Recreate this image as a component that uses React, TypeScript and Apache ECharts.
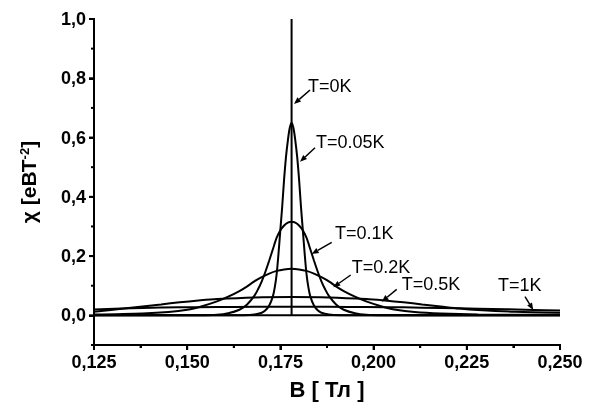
import React, { useEffect, useRef } from "react";
import * as echarts from "echarts";

// ---- data (B in Tesla, chi in eV*T^-2) ----
const T_0K: [number, number][] = [
  [0.125, 0], [0.178, 0], [0.178, 1.0], [0.178, 0], [0.25, 0],
];
const T_005K: [number, number][] = [
  [0.125, 0], [0.160, 0], [0.165, 0.0005], [0.168, 0.003], [0.170, 0.009],
  [0.171, 0.017], [0.172, 0.033], [0.173, 0.065], [0.1735, 0.095], [0.174, 0.14],
  [0.1745, 0.21], [0.175, 0.29], [0.1755, 0.37], [0.176, 0.46], [0.1765, 0.535],
  [0.177, 0.59], [0.1775, 0.632], [0.178, 0.65], [0.1785, 0.632], [0.179, 0.59],
  [0.1795, 0.535], [0.180, 0.46], [0.1805, 0.37], [0.181, 0.29], [0.1815, 0.21],
  [0.182, 0.14], [0.1825, 0.095], [0.183, 0.065], [0.184, 0.033], [0.185, 0.017],
  [0.186, 0.009], [0.188, 0.003], [0.191, 0.0005], [0.196, 0], [0.25, 0],
];
const T_01K: [number, number][] = [
  [0.125, 0], [0.153, 0.0005], [0.158, 0.002], [0.161, 0.007], [0.164, 0.019],
  [0.166, 0.036], [0.168, 0.066], [0.169, 0.088], [0.170, 0.115], [0.171, 0.148],
  [0.172, 0.185], [0.173, 0.224], [0.174, 0.262], [0.175, 0.287], [0.176, 0.303],
  [0.177, 0.313], [0.178, 0.316], [0.179, 0.313], [0.180, 0.303], [0.181, 0.287],
  [0.182, 0.262], [0.183, 0.224], [0.184, 0.185], [0.185, 0.148], [0.186, 0.115],
  [0.187, 0.088], [0.188, 0.066], [0.190, 0.036], [0.192, 0.019], [0.195, 0.007],
  [0.198, 0.002], [0.203, 0.0005], [0.25, 0],
];
const T_02K: [number, number][] = [
  [0.125, 0.0025], [0.138, 0.006], [0.145, 0.011], [0.150, 0.019], [0.154, 0.031],
  [0.158, 0.047], [0.161, 0.063], [0.164, 0.082], [0.166, 0.097], [0.168, 0.115],
  [0.170, 0.129], [0.172, 0.141], [0.174, 0.150], [0.176, 0.155], [0.178, 0.157],
  [0.180, 0.155], [0.182, 0.150], [0.184, 0.141], [0.186, 0.129], [0.188, 0.115],
  [0.190, 0.097], [0.192, 0.082], [0.195, 0.063], [0.198, 0.047], [0.202, 0.031],
  [0.206, 0.019], [0.211, 0.011], [0.218, 0.006], [0.228, 0.003], [0.25, 0.002],
];
const T_05K: [number, number][] = [
  [0.125, 0.012], [0.133, 0.023], [0.138, 0.030], [0.143, 0.037], [0.148, 0.044],
  [0.153, 0.050], [0.158, 0.055], [0.168, 0.0605], [0.178, 0.062], [0.188, 0.0605],
  [0.198, 0.055], [0.203, 0.050], [0.208, 0.044], [0.213, 0.037], [0.218, 0.030],
  [0.223, 0.023], [0.228, 0.018], [0.238, 0.012], [0.25, 0.009],
];
const T_1K: [number, number][] = [
  [0.125, 0.020], [0.138, 0.025], [0.148, 0.027], [0.158, 0.0282], [0.168, 0.0288],
  [0.178, 0.029], [0.188, 0.0288], [0.198, 0.0282], [0.208, 0.027], [0.218, 0.025],
  [0.228, 0.0225], [0.243, 0.0185], [0.25, 0.016],
];

const SERIES_DATA = [T_0K, T_005K, T_01K, T_02K, T_05K, T_1K];

const X_MIN = 0.125;
const X_MAX = 0.25;
const X_STEP = 0.025;
const X_MAJOR = [0.125, 0.15, 0.175, 0.2, 0.225, 0.25];
const X_MINOR = [0.1375, 0.1625, 0.1875, 0.2125, 0.2375];
const Y_MIN = -0.1;
const Y_MAX = 1.0;
const Y_MAJOR = [0, 0.2, 0.4, 0.6, 0.8, 1.0];
const Y_MINOR = [-0.1, 0.1, 0.3, 0.5, 0.7, 0.9];

// axis frame drawn as data-bound polylines along the axis extents
const FRAME_Y: [number, number][] = [[X_MIN, Y_MAX], [X_MIN, Y_MIN]];
const FRAME_X: [number, number][] = [[X_MIN, Y_MIN], [X_MAX, Y_MIN]];

// annotation layout (pixels): label left/center, arrow from -> to
const ANNOT = [
  { text: "T=0K", x: 308, y: 85.5, a: [310, 90, 294, 104] },
  { text: "T=0.05K", x: 316, y: 141.7, a: [315, 147.7, 300, 161.7] },
  { text: "T=0.1K", x: 335, y: 233, a: [331.7, 242.3, 311.7, 254] },
  { text: "T=0.2K", x: 351.7, y: 266.7, a: [350.7, 275, 333.3, 287.3] },
  { text: "T=0.5K", x: 401.7, y: 283.7, a: [396.7, 289.3, 381.7, 301.7] },
  { text: "T=1K", x: 498, y: 285, a: [525, 296.7, 533.3, 310] },
];

const GRID = { left: 94, right: 37, top: 19, bottom: 59 };
const W = 597;
const H = 405;
const FONT = "Arial";

function seg(x1: number, y1: number, x2: number, y2: number, w: number) {
  return {
    type: "line",
    shape: { x1, y1, x2, y2 },
    style: { stroke: "#000", lineWidth: w },
    silent: true,
    z: 10,
  };
}

function arrowEls(x1: number, y1: number, x2: number, y2: number) {
  const dx = x2 - x1;
  const dy = y2 - y1;
  const len = Math.sqrt(dx * dx + dy * dy);
  const ux = dx / len;
  const uy = dy / len;
  const hl = 7;
  const hw = 2.8;
  const bx = x2 - ux * hl;
  const by = y2 - uy * hl;
  return [
    seg(x1, y1, bx, by, 1.5),
    {
      type: "polygon",
      shape: {
        points: [
          [x2, y2],
          [bx - uy * hw, by + ux * hw],
          [bx + uy * hw, by - ux * hw],
        ],
      },
      style: { fill: "#000" },
      silent: true,
      z: 10,
    },
  ];
}

export default function App() {
  const ref = useRef<HTMLDivElement>(null);
  useEffect(() => {
    if (!ref.current) return;
    const chart = echarts.init(ref.current, null, { renderer: "svg" });

    const curveSeries = SERIES_DATA.map((d, i) => ({
      type: "line",
      data: d,
      symbol: "none",
      smooth: i === 0 ? false : 0.3,
      lineStyle: { color: "#000", width: 2 },
      z: 3,
    }));
    const frameSeries = [FRAME_Y, FRAME_X].map((d) => ({
      type: "line",
      data: d,
      symbol: "none",
      clip: false,
      silent: true,
      lineStyle: { color: "#000", width: 2, cap: "square" },
      z: 4,
    }));

    chart.setOption({
      animation: false,
      grid: GRID,
      xAxis: {
        type: "value",
        min: X_MIN,
        max: X_MAX,
        interval: X_STEP,
        name: "B [ Тл ]",
        nameLocation: "middle",
        nameGap: 33,
        nameTextStyle: { fontFamily: FONT, fontWeight: "bold", fontSize: 22, color: "#000" },
        axisLine: { show: true, onZero: false, lineStyle: { color: "#000", width: 2 } },
        axisTick: { show: true, length: 5, lineStyle: { color: "#000", width: 2 } },
        minorTick: { show: true, splitNumber: 2, length: 3, lineStyle: { color: "#000", width: 2 } },
        splitLine: { show: false },
        axisLabel: {
          margin: 8,
          fontFamily: FONT,
          fontWeight: "bold",
          fontSize: 18,
          color: "#000",
          formatter: (v: number) => v.toFixed(3).replace(".", ","),
        },
      },
      yAxis: {
        type: "value",
        min: Y_MIN,
        max: Y_MAX,
        name: "{a|χ [еВТ}{s|-2}{a|]}",
        nameLocation: "middle",
        nameRotate: 90,
        nameGap: 55,
        nameTextStyle: {
          color: "#000",
          rich: {
            a: { fontFamily: FONT, fontWeight: "bold", fontSize: 21, color: "#000" },
            s: { fontFamily: FONT, fontWeight: "bold", fontSize: 13, color: "#000", verticalAlign: "top" },
          },
        },
        axisLine: { show: true, onZero: false, lineStyle: { color: "#000", width: 2 } },
        axisTick: { show: true, length: 5, lineStyle: { color: "#000", width: 2 } },
        splitLine: { show: false },
        axisLabel: {
          margin: 8,
          showMinLabel: false,
          fontFamily: FONT,
          fontWeight: "bold",
          fontSize: 18,
          color: "#000",
          formatter: (v: number) => v.toFixed(1).replace(".", ","),
        },
      },
      series: [...curveSeries, ...frameSeries],
    });

    // tick marks placed through the chart's own scale (linear fallback)
    const plotW = W - GRID.left - GRID.right;
    const plotH = H - GRID.top - GRID.bottom;
    const px = (x: number, y: number): number[] => {
      let p: any = null;
      try {
        p = chart.convertToPixel({ gridIndex: 0 }, [x, y]);
      } catch (e) {
        p = null;
      }
      if (!p || !isFinite(p[0]) || !isFinite(p[1])) {
        p = [
          GRID.left + ((x - X_MIN) / (X_MAX - X_MIN)) * plotW,
          GRID.top + ((Y_MAX - y) / (Y_MAX - Y_MIN)) * plotH,
        ];
      }
      return p;
    };
    const [x0, yB] = px(X_MIN, Y_MIN);
    const graphics: any[] = [];
    Y_MAJOR.forEach((v) => {
      const y = px(X_MIN, v)[1];
      graphics.push(seg(x0 - 5, y, x0, y, 2));
    });
    Y_MINOR.forEach((v) => {
      const y = px(X_MIN, v)[1];
      graphics.push(seg(x0 - 3, y, x0, y, 2));
    });
    X_MAJOR.forEach((v) => {
      const x = px(v, Y_MIN)[0];
      graphics.push(seg(x, yB, x, yB + 5, 2));
    });
    X_MINOR.forEach((v) => {
      const x = px(v, Y_MIN)[0];
      graphics.push(seg(x, yB, x, yB + 3, 2));
    });
    ANNOT.forEach((an) => {
      graphics.push({
        type: "text",
        x: an.x,
        y: an.y,
        style: {
          text: an.text,
          fill: "#000",
          fontFamily: FONT,
          fontSize: 18,
          align: "left",
          verticalAlign: "middle",
        },
        silent: true,
        z: 10,
      });
      graphics.push(...arrowEls(an.a[0], an.a[1], an.a[2], an.a[3]));
    });
    chart.setOption({ graphic: graphics });

    return () => chart.dispose();
  }, []);
  return <div ref={ref} style={{ position: "fixed", left: 0, top: 0, width: W, height: H }} />;
}
